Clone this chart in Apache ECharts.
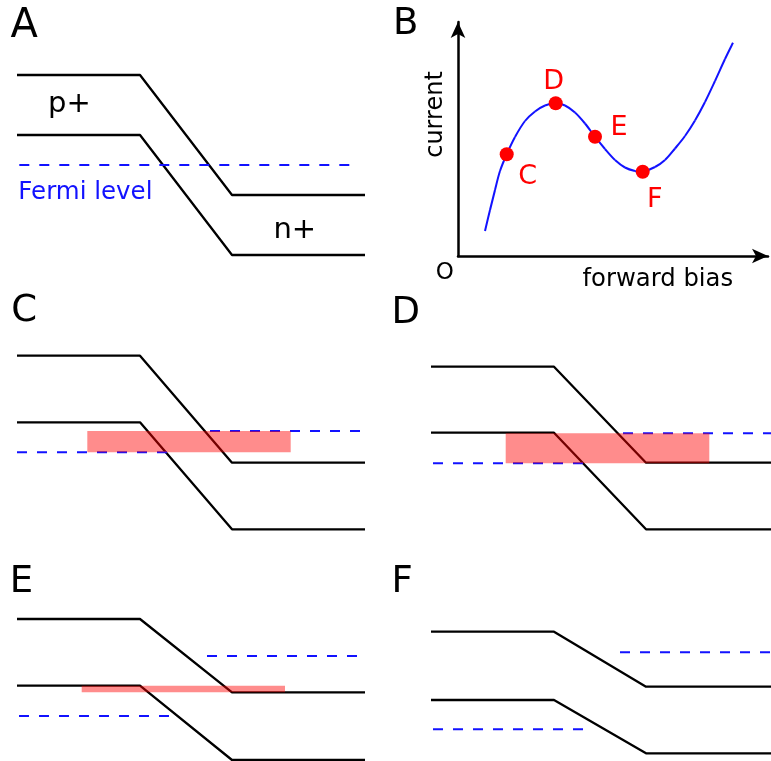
<!DOCTYPE html>
<html>
<head>
<meta charset="utf-8">
<script src="https://cdn.jsdelivr.net/npm/echarts@6/dist/echarts.min.js"></script>
<style>
  html, body { margin: 0; padding: 0; background: #fff; }
  #chart { width: 771px; height: 761px; }
</style>
</head>
<body>
<div id="chart"></div>
<script>
// ---- Band diagrams (panels A, C, D, E, F) ----
// Breakpoints along the junction: p-side start, depletion start, depletion end, n-side end
const bandX = [0, 123, 215, 348];
const bandPanels = ['A', 'C', 'D', 'E', 'F'];
// Band-edge energies for each panel (energy units, increasing upward)
const condP = [195, 184.3, 173.3, 151, 138.3];
const valP = [135, 117.7, 107.3, 84.3, 70];
const condN = [75, 77.3, 77.3, 77.7, 83.3];
const valN = [15, 10.7, 10.7, 10, 16.7];
// Fermi levels (quasi-Fermi levels under bias) on the p and n sides
const fermiP = [105, 87.7, 76.7, 54, 40.7];
const fermiN = [105, 109, 106.7, 114, 117.7];
const fermiPFrom = [2.3, 0, 2, 2, 2];
const fermiPTo = [334.7, 150, 156, 153, 154];
const fermiNFrom = [null, 193, 192, 190, 189];
const fermiNTo = [null, 346, 348, 343, 348];
// Tunnelling window (shaded) for each panel
const tunnelFrom = [null, 70.3, 74.7, 64.7, null];
const tunnelTo = [null, 273.7, 278.3, 268, null];
const tunnelLow = [null, 87.7, 76.7, 77.7, null];
const tunnelHigh = [null, 109, 106.7, 84.3, null];

// ---- I-V characteristic (panel B) ----
const bias = [27, 32, 37, 42, 48.7, 57, 67, 77, 87, 97.7, 107, 117, 127, 137, 147, 157, 167, 177, 184.7, 197, 207, 217, 227, 237, 247, 257, 267, 275];
const current = [25, 46, 66, 85, 101.7, 119, 135, 144.5, 150.5, 152.7, 150.5, 143.5, 132.5, 119.3, 107, 96, 88.5, 85, 84.3, 89, 96, 107.5, 120, 135.5, 154, 175, 197, 213.3];
const pointNames = ['C', 'D', 'E', 'F'];
const pointBias = [48.7, 97.7, 137, 184.7];
const pointCurrent = [101.7, 152.7, 119.3, 84.3];

const FONT = '"DejaVu Sans", "Liberation Sans", sans-serif';
const BLACK = '#000000';
const BLUE = '#1212ff';
const RED = '#ff0000';

// Grid boxes: A, B, C, D, E, F
const gridBoxes = [
  { left: 17, top: 60, width: 348, height: 210 },
  { left: 458, top: 22, width: 310, height: 234 },
  { left: 17, top: 340, width: 348, height: 200 },
  { left: 431, top: 340, width: 348, height: 200 },
  { left: 17, top: 600, width: 348, height: 170 },
  { left: 431, top: 600, width: 348, height: 170 }
];
const bandGridIndex = [0, 2, 3, 4, 5];
const labelOffsets = [[21, 22.8], [-2, -21], [24, -9], [12, 28]];

const grid = gridBoxes.map(g => Object.assign({ containLabel: false, outerBoundsMode: 'none' }, g));
const xAxis = [];
const yAxis = [];
gridBoxes.forEach((g, i) => {
  const isIV = i === 1;
  const axisLineIV = {
    show: true,
    symbol: ['none', 'arrow'],
    symbolSize: [11, 16],
    lineStyle: { color: BLACK, width: 2.5 }
  };
  xAxis.push({
    type: 'value', gridIndex: i, min: 0, max: g.width,
    show: isIV,
    axisLine: isIV ? axisLineIV : { show: false },
    axisTick: { show: false }, axisLabel: { show: false }, splitLine: { show: false }
  });
  yAxis.push({
    type: 'value', gridIndex: i, min: 0, max: g.height,
    show: isIV,
    axisLine: isIV ? axisLineIV : { show: false },
    axisTick: { show: false }, axisLabel: { show: false }, splitLine: { show: false }
  });
});

const series = [];
bandPanels.forEach((name, k) => {
  const gi = bandGridIndex[k];
  const common = { type: 'line', xAxisIndex: gi, yAxisIndex: gi, showSymbol: false, silent: true, z: 2 };
  // conduction band edge
  series.push(Object.assign({}, common, {
    name: name + '-Ec',
    data: [[bandX[0], condP[k]], [bandX[1], condP[k]], [bandX[2], condN[k]], [bandX[3], condN[k]]],
    lineStyle: { color: BLACK, width: 2.3 }
  }));
  // valence band edge
  series.push(Object.assign({}, common, {
    name: name + '-Ev',
    data: [[bandX[0], valP[k]], [bandX[1], valP[k]], [bandX[2], valN[k]], [bandX[3], valN[k]]],
    lineStyle: { color: BLACK, width: 2.3 }
  }));
  // Fermi level, p side
  series.push(Object.assign({}, common, {
    name: name + '-EFp',
    data: [[fermiPFrom[k], fermiP[k]], [fermiPTo[k], fermiP[k]]],
    lineStyle: { color: BLUE, width: 2, type: [10, 10] }
  }));
  // Fermi level, n side
  if (fermiNFrom[k] !== null) {
    series.push(Object.assign({}, common, {
      name: name + '-EFn',
      data: [[fermiNFrom[k], fermiN[k]], [fermiNTo[k], fermiN[k]]],
      lineStyle: { color: BLUE, width: 2, type: [10, 10] }
    }));
  }
  // tunnelling window
  if (tunnelFrom[k] !== null) {
    series.push({
      type: 'custom', name: name + '-tunnel', xAxisIndex: gi, yAxisIndex: gi, silent: true, z: 5,
      encode: { x: [0, 1], y: [2, 3] },
      data: [[tunnelFrom[k], tunnelTo[k], tunnelLow[k], tunnelHigh[k]]],
      renderItem: (params, api) => {
        const p0 = api.coord([api.value(0), api.value(3)]);
        const p1 = api.coord([api.value(1), api.value(2)]);
        return {
          type: 'rect',
          shape: { x: p0[0], y: p0[1], width: p1[0] - p0[0], height: p1[1] - p0[1] },
          style: { fill: 'rgba(255,0,0,0.45)' }
        };
      }
    });
  }
});

// I-V curve: Catmull-Rom spline through the data points, mapped by the axes
series.push({
  type: 'custom', name: 'I-V', xAxisIndex: 1, yAxisIndex: 1, silent: true, z: 2,
  encode: { x: 0, y: 1 },
  data: bias.map((b, i) => [b, current[i]]),
  renderItem: (params, api) => {
    if (params.dataIndex !== 0) return null;
    const pts = bias.map((b, i) => api.coord([b, current[i]]));
    const n = pts.length;
    const children = [];
    for (let i = 0; i < n - 1; i++) {
      const p0 = pts[Math.max(i - 1, 0)];
      const p1 = pts[i];
      const p2 = pts[i + 1];
      const p3 = pts[Math.min(i + 2, n - 1)];
      children.push({
        type: 'bezierCurve',
        shape: {
          x1: p1[0], y1: p1[1], x2: p2[0], y2: p2[1],
          cpx1: p1[0] + (p2[0] - p0[0]) / 6, cpy1: p1[1] + (p2[1] - p0[1]) / 6,
          cpx2: p2[0] - (p3[0] - p1[0]) / 6, cpy2: p2[1] - (p3[1] - p1[1]) / 6
        },
        style: { stroke: BLUE, lineWidth: 2, fill: null }
      });
    }
    return { type: 'group', children: children };
  }
});
// Operating points
series.push({
  type: 'scatter', name: 'points', xAxisIndex: 1, yAxisIndex: 1, z: 4,
  symbolSize: 14, itemStyle: { color: RED, opacity: 1 },
  data: pointNames.map((n, i) => ({
    name: n, value: [pointBias[i], pointCurrent[i]],
    label: { offset: labelOffsets[i] }
  })),
  label: {
    show: true, position: 'inside', formatter: '{b}', opacity: 1,
    color: RED, fontSize: 27, fontFamily: FONT
  }
});

function txt(text, x, y, size, color, rotation) {
  return {
    type: 'text', x: x, y: y, rotation: rotation || 0, silent: true, z: 10,
    style: {
      text: text, font: size + 'px ' + FONT, fill: color,
      align: rotation ? 'center' : 'left', verticalAlign: 'middle',
      textAlign: rotation ? 'center' : 'left', textVerticalAlign: 'middle'
    }
  };
}

const graphic = [
  txt('A', 10.5, 26.5, 40, BLACK),
  txt('B', 393, 24, 37, BLACK),
  txt('C', 11.3, 311.7, 37, BLACK),
  txt('D', 391.4, 313, 37, BLACK),
  txt('E', 9.7, 582, 37, BLACK),
  txt('F', 391.4, 582, 37, BLACK),
  txt('p+', 48, 104.6, 29, BLACK),
  txt('n+', 273.4, 230.6, 29, BLACK),
  txt('Fermi level', 18.3, 192.8, 24.5, BLUE),
  txt('O', 435.7, 273, 23, BLACK),
  txt('forward bias', 582.5, 279.3, 24.3, BLACK),
  txt('current', 435.8, 114.5, 24, BLACK, Math.PI / 2)
];

const chart = echarts.init(document.getElementById('chart'), null, { renderer: 'canvas' });
chart.setOption({
  animation: false,
  backgroundColor: '#ffffff',
  grid: grid,
  xAxis: xAxis,
  yAxis: yAxis,
  series: series,
  graphic: graphic
});
</script>
</body>
</html>
